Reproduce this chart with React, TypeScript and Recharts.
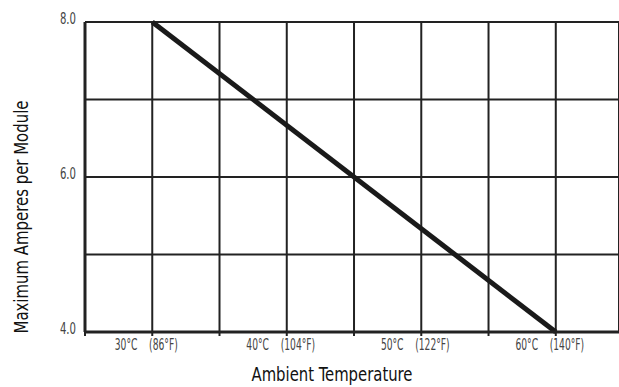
import { LineChart, Line, XAxis, YAxis, CartesianGrid, Label } from 'recharts'

// derating curve: max current per module vs ambient temperature
const temps = [30, 60]
const amps = [8.0, 4.0]

const xTicks = [25, 30, 35, 40, 45, 50, 55, 60]
const xTickLabels = ['', '30°C\u00a0\u00a0\u00a0\u00a0(86°F)', '', '40°C\u00a0\u00a0\u00a0\u00a0(104°F)', '', '50°C\u00a0\u00a0\u00a0\u00a0(122°F)', '', '60°C\u00a0\u00a0\u00a0\u00a0(140°F)']
const yTicks = [4, 5, 6, 7, 8]
const yTickLabels = ['4.0', '', '6.0', '', '8.0']

const FONT = "'DejaVu Sans Condensed', 'DejaVu Sans', sans-serif"
const INK = '#222'

const data = temps.map((t, i) => ({ t, a: amps[i] }))

// the source font is a narrow one, so squeeze the glyphs horizontally
function XTick(props: any) {
  const { x, y, payload } = props
  const label = xTickLabels[xTicks.indexOf(payload.value)] ?? ''
  if (!label) return null
  return (
    <g transform={`translate(${x - 6}, ${y})`}>
      <text transform="scale(0.68, 1)" dy={10} textAnchor="middle" fill="#444" fontSize={15} fontFamily={FONT}>
        {label}
      </text>
    </g>
  )
}

function YTick(props: any) {
  const { x, y, payload } = props
  const label = yTickLabels[yTicks.indexOf(payload.value)] ?? ''
  if (!label) return null
  return (
    <g transform={`translate(${x}, ${y})`}>
      <text transform="scale(0.75, 1)" dy={2} textAnchor="end" fill="#444" fontSize={15} fontFamily={FONT}>
        {label}
      </text>
    </g>
  )
}

export default function App() {
  return (
    <div style={{ position: 'absolute', left: 0, top: 0, width: 619, height: 387, background: '#fff' }}>
      <LineChart width={619} height={387} data={data} margin={{ top: 22, right: 0, left: 0, bottom: 0 }}>
        <CartesianGrid stroke={INK} strokeWidth={2} />
        <XAxis
          dataKey="t"
          type="number"
          domain={[25, 64.7]}
          ticks={xTicks}
          interval={0}
          height={55}
          axisLine={{ stroke: INK, strokeWidth: 3 }}
          tickLine={{ stroke: INK, strokeWidth: 2 }}
          tickSize={4}
          tickMargin={4}
          tick={<XTick />}
        >
          <Label
            content={() => (
              <text
                x={332}
                y={381}
                textAnchor="middle"
                fill="#111"
                fontSize={19}
                fontFamily={FONT}
                textLength={161}
                lengthAdjust="spacingAndGlyphs"
              >
                Ambient Temperature
              </text>
            )}
          />
        </XAxis>
        <YAxis
          type="number"
          domain={[4, 8]}
          ticks={yTicks}
          interval={0}
          width={85}
          axisLine={{ stroke: INK, strokeWidth: 3 }}
          tickLine={false}
          tickSize={0}
          tickMargin={9}
          tick={<YTick />}
        >
          <Label
            content={() => (
              <text
                x={28}
                y={217}
                transform="rotate(-90, 28, 217)"
                textAnchor="middle"
                fill="#111"
                fontSize={20}
                fontFamily={FONT}
                textLength={233}
                lengthAdjust="spacingAndGlyphs"
              >
                Maximum Amperes per Module
              </text>
            )}
          />
        </YAxis>
        <Line
          dataKey="a"
          stroke="#1a1a1a"
          strokeWidth={5}
          dot={false}
          activeDot={false}
          isAnimationActive={false}
        />
      </LineChart>
    </div>
  )
}
